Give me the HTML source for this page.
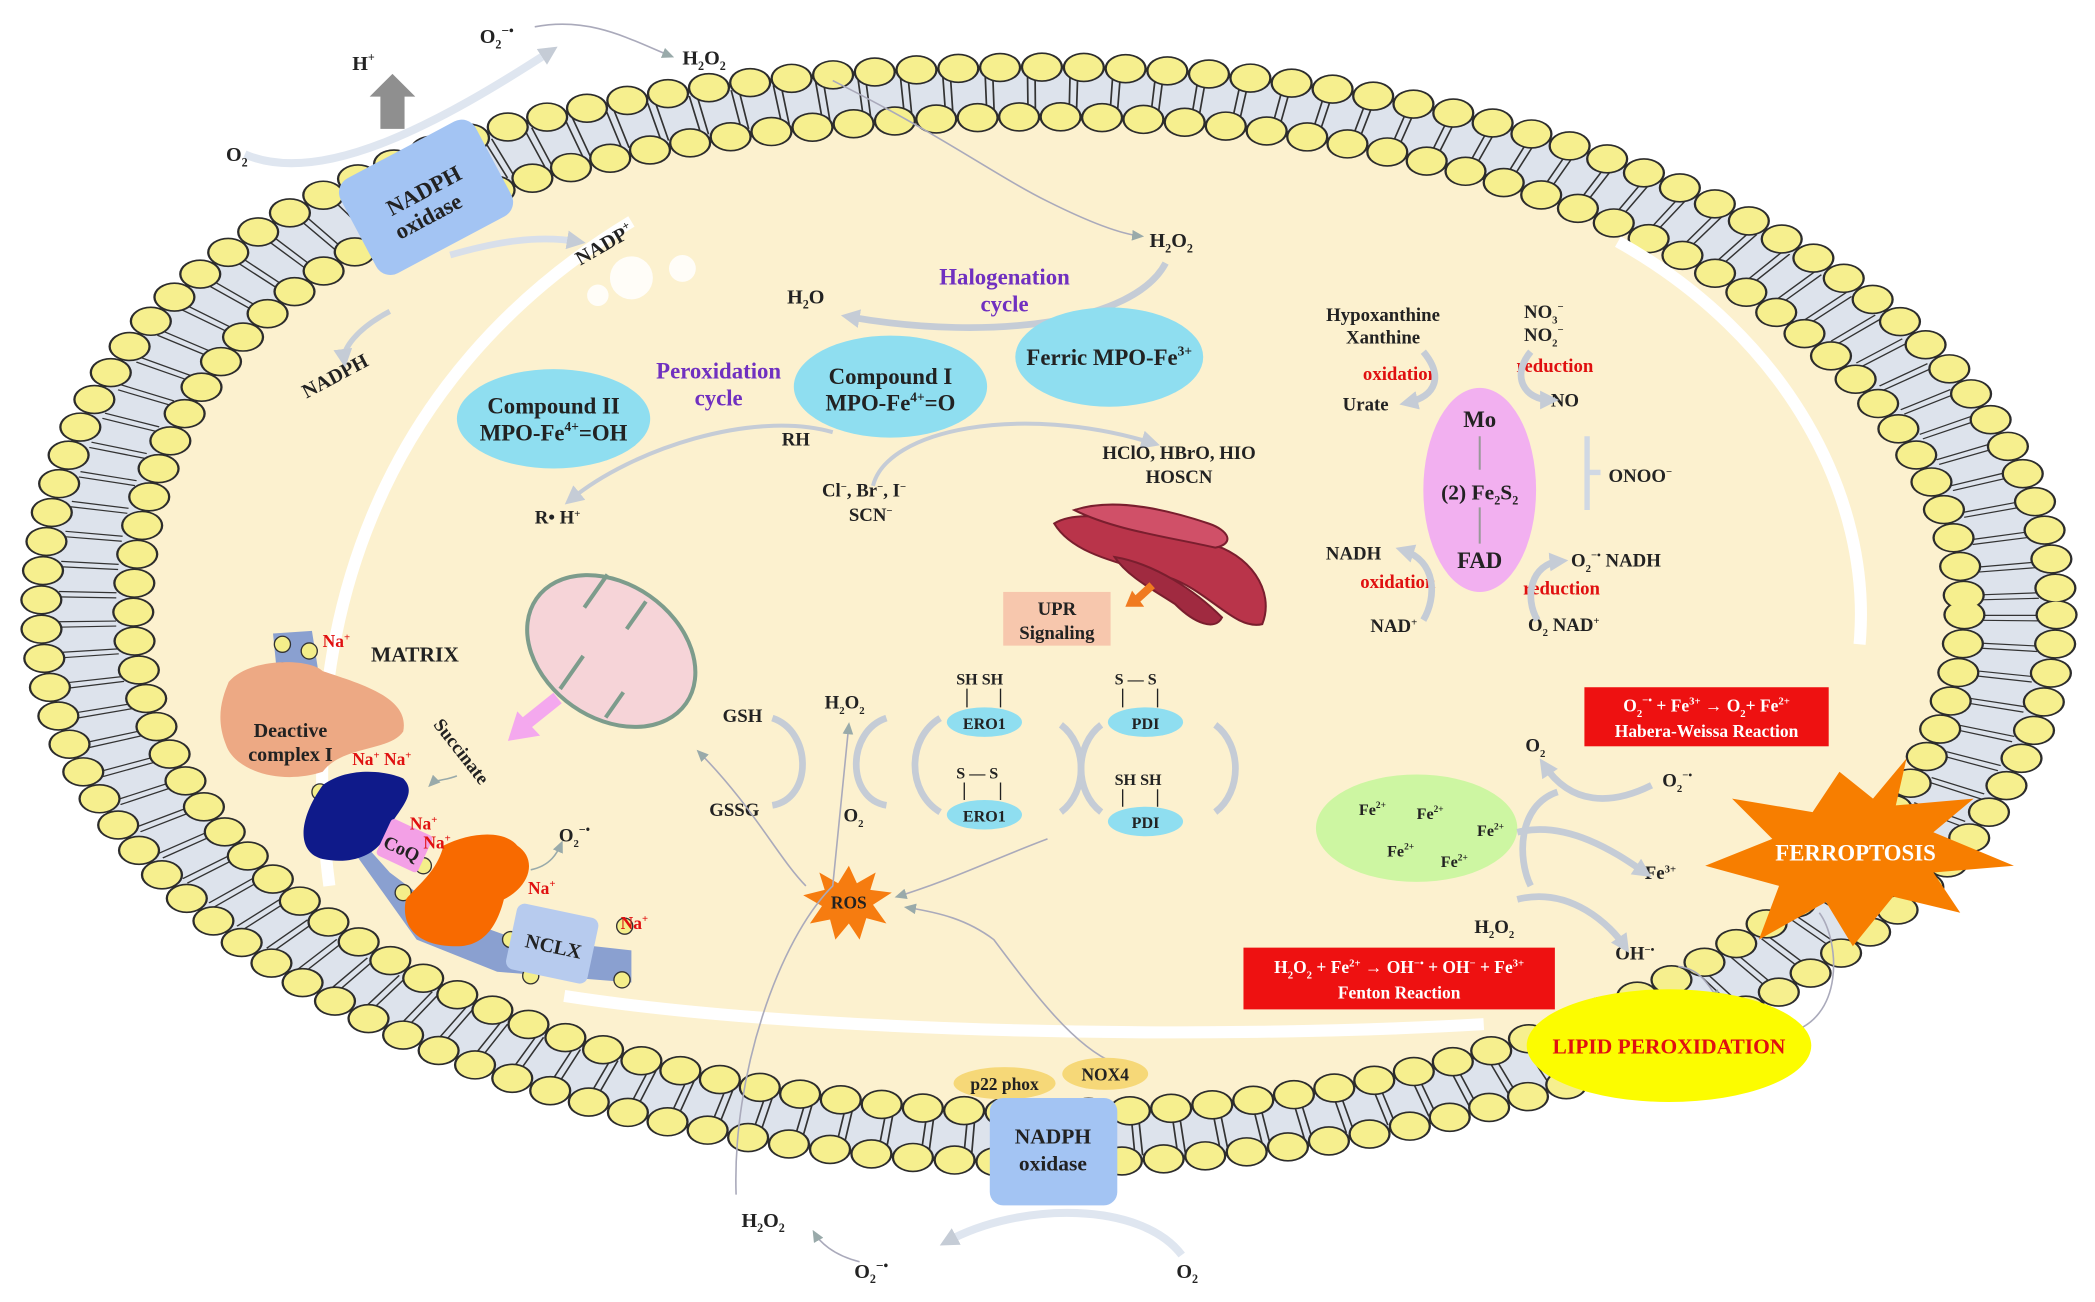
<!DOCTYPE html>
<html><head><meta charset="utf-8"><style>
html,body{margin:0;padding:0;background:#fff;}
svg{display:block;}
text{font-family:"Liberation Serif",serif;font-weight:bold;fill:#222;}
</style></head><body>
<svg width="2095" height="1302" viewBox="0 0 1560 970" xmlns="http://www.w3.org/2000/svg">
<defs>
<marker id="ah" markerUnits="userSpaceOnUse" markerWidth="9" markerHeight="8" refX="7" refY="4" orient="auto"><path d="M0,0 L9,4 L0,8z" fill="#9aa"/></marker>
<marker id="ab" markerUnits="userSpaceOnUse" markerWidth="14" markerHeight="14" refX="8" refY="7" orient="auto"><path d="M0,0 L14,7 L0,14z" fill="#c5ccd6"/></marker>
<!-- local coords: x scaled by 1.43 -->
<path id="outerP" d="M525,0 C525,225 290,408 0,408 C-290,408 -525,225 -525,0 C-525,-265 -341,-408 0,-408 C290,-408 525,-225 525,0Z"/>
<path id="midP" d="M501,0 C501,215 277,389.5 0,389.5 C-277,389.5 -501,215 -501,0 C-501,-253 -326,-389.5 0,-389.5 C277,-389.5 501,-215 501,0Z"/>
<path id="innerP" d="M477,0 C477,205 263,371 0,371 C-263,371 -477,205 -477,0 C-477,-241 -310,-371 0,-371 C263,-371 477,-205 477,0Z"/>
</defs>
<rect width="1560" height="970" fill="#fff"/>
<!-- membrane -->
<g transform="translate(781,458) scale(1.43,1)">
<use href="#outerP" fill="#dde3ec"/>
<use href="#midP" fill="none" stroke="#333" stroke-width="30" stroke-dasharray="0.9 3 0.9 17"/>
<use href="#innerP" fill="#fcf1cf"/>
<use href="#outerP" fill="none" stroke="#2c2c2c" stroke-width="22" stroke-dasharray="0 21.8" stroke-linecap="round"/>
<use href="#outerP" fill="none" stroke="#f6ef8e" stroke-width="19.6" stroke-dasharray="0 21.8" stroke-linecap="round"/>
<use href="#innerP" fill="none" stroke="#2c2c2c" stroke-width="22" stroke-dasharray="0 21.6" stroke-linecap="round"/>
<use href="#innerP" fill="none" stroke="#f6ef8e" stroke-width="19.6" stroke-dasharray="0 21.6" stroke-linecap="round"/>
</g>
<!-- white highlights -->
<path d="M245,660 C220,470 280,280 470,165" stroke="#fff" stroke-width="9" fill="none"/>
<path d="M420,742 C600,770 900,775 1105,763" stroke="#fff" stroke-width="9" fill="none"/>
<path d="M1205,180 C1330,250 1395,370 1385,480" stroke="#fff" stroke-width="9" fill="none"/>
<circle cx="470" cy="207" r="16" fill="#fff" opacity="0.85"/><circle cx="508" cy="200" r="10" fill="#fff" opacity="0.85"/><circle cx="445" cy="220" r="8" fill="#fff" opacity="0.85"/>

<!-- top NADPH oxidase -->
<path d="M182,115 C240,140 330,90 410,38" stroke="#dfe6f0" stroke-width="6" fill="none" marker-end="url(#ab)"/>
<path d="M398,20 C440,12 470,30 500,42" stroke="#aab" stroke-width="1.2" fill="none" marker-end="url(#ah)"/>
<polygon points="283,96 301,96 301,72 309,72 292,55 275,72 283,72" fill="#8f8f8f"/>
<g transform="rotate(-28 317 147)"><rect x="260" y="107" width="114" height="80" rx="12" fill="#a3c4f3"/></g>
<text x="318" y="147" font-size="17" text-anchor="middle" transform="rotate(-28 318 147)">NADPH</text>
<text x="318" y="167" font-size="17" text-anchor="middle" transform="rotate(-28 318 160)">oxidase</text>
<path d="M335,190 C370,180 400,175 430,180" stroke="#d8dfea" stroke-width="5" fill="none" marker-end="url(#ab)"/>
<text x="262" y="52" font-size="15">H<tspan font-size="9" dy="-6">+</tspan></text>
<text x="168" y="120" font-size="15">O<tspan font-size="9" dy="4">2</tspan></text>
<text x="357" y="32" font-size="15">O<tspan font-size="9" dy="4">2</tspan><tspan font-size="10" dy="-10">−•</tspan></text>
<text x="508" y="48" font-size="15">H<tspan font-size="9" dy="4">2</tspan><tspan dy="-4">O</tspan><tspan font-size="9" dy="4">2</tspan></text>
<text x="432" y="198" font-size="15" transform="rotate(-30 432 198)">NADP<tspan font-size="9" dy="-6">+</tspan></text>
<text x="228" y="297" font-size="15" transform="rotate(-28 228 297)">NADPH</text>
<path d="M290,232 C265,245 255,260 256,268" stroke="#c8cfd8" stroke-width="4" fill="none" marker-end="url(#ab)"/>
<path d="M620,60 C700,100 740,130 780,150 C820,170 840,175 850,176" stroke="#aab" stroke-width="1.2" fill="none" marker-end="url(#ah)"/>

<!-- MPO -->
<text x="856" y="184" font-size="15">H<tspan font-size="9" dy="4">2</tspan><tspan dy="-4">O</tspan><tspan font-size="9" dy="4">2</tspan></text>
<text x="586" y="226" font-size="15">H<tspan font-size="9" dy="4">2</tspan><tspan dy="-4">O</tspan></text>
<path d="M868,196 C845,240 740,255 632,236" stroke="#c5ccd6" stroke-width="5" fill="none" marker-end="url(#ab)"/>
<text x="748" y="212" font-size="17" style="fill:#7030c0" text-anchor="middle">Halogenation</text>
<text x="748" y="232" font-size="17" style="fill:#7030c0" text-anchor="middle">cycle</text>
<ellipse cx="826" cy="266" rx="70" ry="37" fill="#8fdef0"/>
<text x="826" y="272" font-size="17" text-anchor="middle">Ferric MPO-Fe<tspan font-size="10" dy="-7">3+</tspan></text>
<ellipse cx="663" cy="288" rx="72" ry="38" fill="#8fdef0"/>
<text x="663" y="286" font-size="17" text-anchor="middle">Compound I</text>
<text x="663" y="306" font-size="17" text-anchor="middle">MPO-Fe<tspan font-size="10" dy="-7">4+</tspan><tspan dy="7">=O</tspan></text>
<ellipse cx="412" cy="312" rx="72" ry="37" fill="#8fdef0"/>
<text x="412" y="308" font-size="17" text-anchor="middle">Compound II</text>
<text x="412" y="328" font-size="17" text-anchor="middle">MPO-Fe<tspan font-size="10" dy="-7">4+</tspan><tspan dy="7">=OH</tspan></text>
<text x="535" y="282" font-size="17" style="fill:#7030c0" text-anchor="middle">Peroxidation</text>
<text x="535" y="302" font-size="17" style="fill:#7030c0" text-anchor="middle">cycle</text>
<path d="M620,322 C560,305 470,335 425,372" stroke="#c5ccd6" stroke-width="3" fill="none" marker-end="url(#ab)"/>
<path d="M650,362 C660,320 760,300 858,330" stroke="#c5ccd6" stroke-width="3" fill="none" marker-end="url(#ab)"/>
<text x="582" y="332" font-size="14">RH</text>
<text x="398" y="390" font-size="14">R• H<tspan font-size="8" dy="-5">+</tspan></text>
<text x="612" y="370" font-size="14">Cl<tspan font-size="8" dy="-5">−</tspan><tspan dy="5">, Br</tspan><tspan font-size="8" dy="-5">−</tspan><tspan dy="5">, I</tspan><tspan font-size="8" dy="-5">−</tspan></text>
<text x="632" y="388" font-size="14">SCN<tspan font-size="8" dy="-5">−</tspan></text>
<text x="878" y="342" font-size="14" text-anchor="middle">HClO, HBrO, HIO</text>
<text x="878" y="360" font-size="14" text-anchor="middle">HOSCN</text>

<!-- ER -->
<g stroke="#7a1e2e" stroke-width="1.5">
<path d="M785,390 C810,375 860,395 900,405 C930,412 950,440 940,465 C920,470 900,440 870,430 C840,420 800,415 785,390z" fill="#b9344a"/>
<path d="M800,380 C830,370 870,380 900,390 C915,395 920,405 905,408 C870,400 830,395 800,380z" fill="#d05068"/>
<path d="M830,415 C860,420 890,440 910,460 C905,470 890,465 875,450 C860,440 840,430 830,415z" fill="#a02a40"/>
</g>
<path d="M858,436 L845,448" stroke="#f07a20" stroke-width="6"/><polygon points="838,452 852,452 843,440" fill="#f07a20"/>
<rect x="747" y="441" width="80" height="40" fill="#f7c7ad"/>
<text x="787" y="458" font-size="14" text-anchor="middle">UPR</text>
<text x="787" y="476" font-size="14" text-anchor="middle">Signaling</text>

<!-- mitochondrion -->
<g transform="rotate(35 455 485)">
<ellipse cx="455" cy="485" rx="68" ry="50" fill="#f6d4d8" stroke="#7d9c8c" stroke-width="3"/>
<path d="M420,440 L420,470 M455,440 L455,465 M440,530 L440,500 M480,528 L480,505" stroke="#7d9c8c" stroke-width="3"/>
</g>
<path d="M415,520 L390,540" stroke="#f4a8ee" stroke-width="10"/><polygon points="378,552 402,548 385,530" fill="#f4a8ee"/>

<!-- left complex -->
<g>
<path d="M203,472 L232,470 L238,508 L207,512z" fill="#8aa0d0"/>
<path d="M232,585 L290,650 L330,680 L380,698 L470,708 L470,732 L370,724 L310,700 L242,605z" fill="#8aa0d0"/>
<g fill="#f4ee8a" stroke="#333"><circle cx="210" cy="480" r="6"/><circle cx="230" cy="485" r="6"/><circle cx="210" cy="500" r="6"/>
<circle cx="238" cy="590" r="6"/><circle cx="300" cy="665" r="6"/><circle cx="330" cy="690" r="6"/><circle cx="315" cy="645" r="6"/><circle cx="380" cy="700" r="6"/><circle cx="465" cy="690" r="6"/><circle cx="463" cy="730" r="6"/><circle cx="395" cy="727" r="6"/></g>
<path d="M170,508 C185,490 230,490 240,500 C270,510 305,520 300,545 C290,560 255,555 240,575 C210,585 175,575 168,555 C160,535 165,520 170,508z" fill="#eda984"/>
<text x="216" y="549" font-size="15" text-anchor="middle">Deactive</text>
<text x="216" y="567" font-size="15" text-anchor="middle">complex I</text>
<path d="M240,585 C260,570 290,575 300,580 C310,590 300,600 290,615 C285,635 265,645 240,640 C220,635 222,610 240,585z" fill="#0f1a8a"/>
<rect x="284" y="615" width="34" height="30" rx="3" transform="rotate(25 301 630)" fill="#f3a0e6"/>
<text x="299" y="637" font-size="14" text-anchor="middle" transform="rotate(25 299 632)">CoQ</text>
<path d="M330,630 C350,620 375,618 385,630 C400,640 395,660 375,670 C370,690 360,705 340,705 C310,705 298,690 302,670 C310,660 325,650 330,630z" fill="#f86a00"/>
<rect x="380" y="678" width="62" height="50" rx="6" transform="rotate(12 411 703)" fill="#b7cbee"/>
<text x="412" y="710" font-size="15" text-anchor="middle" transform="rotate(12 412 705)">NCLX</text>
</g>
<g font-size="13">
<text x="240" y="482" style="fill:#e01010">Na<tspan font-size="8" dy="-5">+</tspan></text>
<text x="262" y="570" style="fill:#e01010">Na<tspan font-size="8" dy="-5">+</tspan><tspan dy="5"> Na</tspan><tspan font-size="8" dy="-5">+</tspan></text>
<text x="305" y="618" style="fill:#e01010">Na<tspan font-size="8" dy="-5">+</tspan></text>
<text x="315" y="632" style="fill:#e01010">Na<tspan font-size="8" dy="-5">+</tspan></text>
<text x="393" y="666" style="fill:#e01010">Na<tspan font-size="8" dy="-5">+</tspan></text>
<text x="462" y="692" style="fill:#e01010">Na<tspan font-size="8" dy="-5">+</tspan></text>
</g>
<text x="276" y="493" font-size="16">MATRIX</text>
<text x="322" y="540" font-size="14" transform="rotate(52 322 540)">Succinate</text>
<path d="M340,578 C330,582 325,580 320,585" stroke="#9aa" stroke-width="1.2" fill="none" marker-end="url(#ah)"/>
<path d="M395,648 C410,645 415,635 418,628" stroke="#9aa" stroke-width="1.2" fill="none" marker-end="url(#ah)"/>
<text x="416" y="627" font-size="14">O<tspan font-size="8" dy="4">2</tspan><tspan font-size="9" dy="-10">−•</tspan></text>

<!-- GSH / ERO1 / PDI -->
<text x="538" y="538" font-size="14">GSH</text>
<text x="528" y="608" font-size="14">GSSG</text>
<text x="614" y="528" font-size="14">H<tspan font-size="8" dy="4">2</tspan><tspan dy="-4">O</tspan><tspan font-size="8" dy="4">2</tspan></text>
<text x="628" y="612" font-size="14">O<tspan font-size="8" dy="4">2</tspan></text>
<g stroke="#c5ccd6" stroke-width="5" fill="none">
<path d="M575,535 C605,545 605,595 575,600"/><path d="M660,535 C630,545 630,595 660,600"/>
<path d="M700,535 C675,550 675,590 700,605"/><path d="M790,540 C810,555 810,590 790,605"/>
<path d="M820,540 C800,555 800,590 820,605"/><path d="M905,540 C925,555 925,590 905,605"/>
</g>
<ellipse cx="733" cy="538" rx="28" ry="11" fill="#8fdef0"/><text x="733" y="543" font-size="12" text-anchor="middle">ERO1</text>
<ellipse cx="733" cy="607" rx="28" ry="11" fill="#8fdef0"/><text x="733" y="612" font-size="12" text-anchor="middle">ERO1</text>
<ellipse cx="853" cy="538" rx="28" ry="11" fill="#8fdef0"/><text x="853" y="543" font-size="12" text-anchor="middle">PDI</text>
<ellipse cx="853" cy="612" rx="28" ry="11" fill="#8fdef0"/><text x="853" y="617" font-size="12" text-anchor="middle">PDI</text>
<text x="712" y="510" font-size="12">SH  SH</text>
<path d="M720,513 V527 M745,513 V527" stroke="#222"/>
<text x="712" y="580" font-size="12">S — S</text>
<path d="M718,583 V596 M745,583 V596" stroke="#222"/>
<text x="830" y="510" font-size="12">S — S</text>
<path d="M836,513 V527 M862,513 V527" stroke="#222"/>
<text x="830" y="585" font-size="12">SH  SH</text>
<path d="M836,588 V601 M862,588 V601" stroke="#222"/>

<!-- ROS -->
<polygon points="632,645 638,658 652,650 648,663 664,665 650,674 660,688 645,684 640,700 632,688 622,700 618,685 603,688 612,675 598,667 614,663 610,650 624,658" fill="#f67c10"/>
<text x="632" y="677" font-size="13" text-anchor="middle">ROS</text>
<path d="M600,660 C580,640 560,600 520,560" stroke="#aab" stroke-width="1.2" fill="none" marker-end="url(#ah)"/>
<path d="M780,625 C740,640 710,655 668,668" stroke="#aab" stroke-width="1.2" fill="none" marker-end="url(#ah)"/>
<path d="M548,890 C545,800 580,700 620,660 L632,540" stroke="#aab" stroke-width="1.2" fill="none" marker-end="url(#ah)"/>
<path d="M830,792 C800,780 770,740 740,700 C720,685 700,680 675,676" stroke="#aab" stroke-width="1.2" fill="none" marker-end="url(#ah)"/>

<!-- bottom NADPH oxidase -->
<ellipse cx="748" cy="807" rx="38" ry="12" fill="#f6d878"/><text x="748" y="812" font-size="13" text-anchor="middle">p22 phox</text>
<ellipse cx="823" cy="800" rx="32" ry="12" fill="#f6d878"/><text x="823" y="805" font-size="13" text-anchor="middle">NOX4</text>
<rect x="737" y="818" width="95" height="80" rx="10" fill="#a3c4f3"/>
<text x="784" y="852" font-size="16" text-anchor="middle">NADPH</text>
<text x="784" y="872" font-size="16" text-anchor="middle">oxidase</text>
<path d="M880,935 C850,895 760,895 705,925" stroke="#dfe6f0" stroke-width="6" fill="none" marker-end="url(#ab)"/>
<path d="M640,940 C620,935 610,925 606,918" stroke="#aab" stroke-width="1.2" fill="none" marker-end="url(#ah)"/>
<text x="552" y="914" font-size="15">H<tspan font-size="9" dy="4">2</tspan><tspan dy="-4">O</tspan><tspan font-size="9" dy="4">2</tspan></text>
<text x="636" y="952" font-size="15">O<tspan font-size="9" dy="4">2</tspan><tspan font-size="10" dy="-10">−•</tspan></text>
<text x="876" y="952" font-size="15">O<tspan font-size="9" dy="4">2</tspan></text>

<!-- xanthine oxidase -->
<ellipse cx="1102" cy="365" rx="42" ry="76" fill="#f2b0f0"/>
<text x="1102" y="318" font-size="17" text-anchor="middle">Mo</text>
<text x="1102" y="372" font-size="16" text-anchor="middle">(2) Fe<tspan font-size="9" dy="4">2</tspan><tspan dy="-4">S</tspan><tspan font-size="9" dy="4">2</tspan></text>
<text x="1102" y="423" font-size="17" text-anchor="middle">FAD</text>
<path d="M1102,325 V350 M1102,378 V405" stroke="#999" stroke-width="1.5"/>
<text x="1030" y="239" font-size="14" text-anchor="middle">Hypoxanthine</text>
<text x="1030" y="256" font-size="14" text-anchor="middle">Xanthine</text>
<text x="1043" y="283" font-size="14" style="fill:#e01010" text-anchor="middle">oxidation</text>
<text x="1017" y="306" font-size="14" text-anchor="middle">Urate</text>
<text x="1135" y="237" font-size="14">NO<tspan font-size="8" dy="4">3</tspan><tspan font-size="8" dy="-10">−</tspan></text>
<text x="1135" y="254" font-size="14">NO<tspan font-size="8" dy="4">2</tspan><tspan font-size="8" dy="-10">−</tspan></text>
<text x="1158" y="277" font-size="14" style="fill:#e01010" text-anchor="middle">reduction</text>
<text x="1155" y="303" font-size="14">NO</text>
<text x="1198" y="359" font-size="14">ONOO<tspan font-size="8" dy="-5">−</tspan></text>
<path d="M1182,325 V380 M1182,352 H1192" stroke="#d0d8e4" stroke-width="4"/>
<text x="1008" y="417" font-size="14" text-anchor="middle">NADH</text>
<text x="1041" y="438" font-size="14" style="fill:#e01010" text-anchor="middle">oxidation</text>
<text x="1038" y="471" font-size="14" text-anchor="middle">NAD<tspan font-size="8" dy="-5">+</tspan></text>
<text x="1170" y="422" font-size="14">O<tspan font-size="8" dy="4">2</tspan><tspan font-size="8" dy="-10">−•</tspan><tspan dy="6"> NADH</tspan></text>
<text x="1163" y="443" font-size="14" style="fill:#e01010" text-anchor="middle">reduction</text>
<text x="1138" y="470" font-size="14">O<tspan font-size="8" dy="4">2</tspan><tspan dy="-4">  NAD</tspan><tspan font-size="8" dy="-5">+</tspan></text>
<g stroke="#c5ccd6" stroke-width="5" fill="none">
<path d="M1060,262 C1075,280 1070,295 1048,300" marker-end="url(#ab)"/><path d="M1140,262 C1125,280 1135,298 1155,298" marker-end="url(#ab)"/>
<path d="M1060,462 C1070,445 1070,418 1045,410" marker-end="url(#ab)"/><path d="M1145,462 C1135,445 1140,420 1162,418" marker-end="url(#ab)"/>
</g>

<!-- Fe / ferroptosis -->
<rect x="1180" y="512" width="182" height="44" fill="#ee1111"/>
<text x="1271" y="530" font-size="13" style="fill:#fff" text-anchor="middle">O<tspan font-size="8" dy="4">2</tspan><tspan font-size="8" dy="-10">−•</tspan><tspan dy="6"> + Fe</tspan><tspan font-size="8" dy="-5">3+</tspan><tspan dy="5"> → O</tspan><tspan font-size="8" dy="4">2</tspan><tspan dy="-4">+ Fe</tspan><tspan font-size="8" dy="-5">2+</tspan></text>
<text x="1271" y="549" font-size="13" style="fill:#fff" text-anchor="middle">Habera-Weissa Reaction</text>
<text x="1136" y="560" font-size="14">O<tspan font-size="8" dy="4">2</tspan></text>
<text x="1238" y="586" font-size="14">O<tspan font-size="8" dy="4">2</tspan><tspan font-size="8" dy="-10">−•</tspan></text>
<text x="1225" y="655" font-size="14">Fe<tspan font-size="8" dy="-5">3+</tspan></text>
<text x="1098" y="695" font-size="14">H<tspan font-size="8" dy="4">2</tspan><tspan dy="-4">O</tspan><tspan font-size="8" dy="4">2</tspan></text>
<text x="1203" y="715" font-size="14">OH<tspan font-size="8" dy="-5">−•</tspan></text>
<ellipse cx="1055" cy="617" rx="75" ry="40" fill="#cdf6a2"/>
<g font-size="12"><text x="1012" y="607">Fe<tspan font-size="7" dy="-5">2+</tspan></text><text x="1055" y="610">Fe<tspan font-size="7" dy="-5">2+</tspan></text><text x="1100" y="623">Fe<tspan font-size="7" dy="-5">2+</tspan></text><text x="1033" y="638">Fe<tspan font-size="7" dy="-5">2+</tspan></text><text x="1073" y="646">Fe<tspan font-size="7" dy="-5">2+</tspan></text></g>
<g stroke="#c5ccd6" stroke-width="5" fill="none">
<path d="M1230,585 C1200,600 1170,600 1150,570" marker-end="url(#ab)"/><path d="M1130,620 C1170,610 1210,640 1225,650" marker-end="url(#ab)"/>
<path d="M1130,670 C1170,660 1200,690 1210,705" marker-end="url(#ab)"/><path d="M1160,590 C1130,600 1130,640 1140,660"/>
</g>
<rect x="926" y="706" width="232" height="46" fill="#ee1111"/>
<text x="1042" y="725" font-size="13" style="fill:#fff" text-anchor="middle">H<tspan font-size="8" dy="4">2</tspan><tspan dy="-4">O</tspan><tspan font-size="8" dy="4">2</tspan><tspan dy="-4"> + Fe</tspan><tspan font-size="8" dy="-5">2+</tspan><tspan dy="5"> → OH</tspan><tspan font-size="8" dy="-5">−•</tspan><tspan dy="5"> + OH</tspan><tspan font-size="8" dy="-5">−</tspan><tspan dy="5"> + Fe</tspan><tspan font-size="8" dy="-5">3+</tspan></text>
<text x="1042" y="744" font-size="13" style="fill:#fff" text-anchor="middle">Fenton Reaction</text>
<polygon points="1420,565 1412,600 1470,595 1440,620 1500,645 1440,650 1460,680 1410,668 1380,705 1360,672 1310,700 1325,660 1270,645 1320,625 1290,595 1350,605 1370,575 1395,595" fill="#f77e00"/>
<text x="1382" y="641" font-size="17" style="fill:#fff" text-anchor="middle">FERROPTOSIS</text>
<path d="M1250,720 C1265,722 1270,730 1280,745" stroke="#aab" stroke-width="1.2" fill="none" marker-end="url(#ah)"/>
<path d="M1330,770 C1375,760 1370,700 1355,680" stroke="#aab" stroke-width="1.2" fill="none"/>
<ellipse cx="1243" cy="779" rx="106" ry="42" fill="#fcfc00"/>
<text x="1243" y="785" font-size="16" style="fill:#e01010" text-anchor="middle">LIPID PEROXIDATION</text>
</svg>
</body></html>
